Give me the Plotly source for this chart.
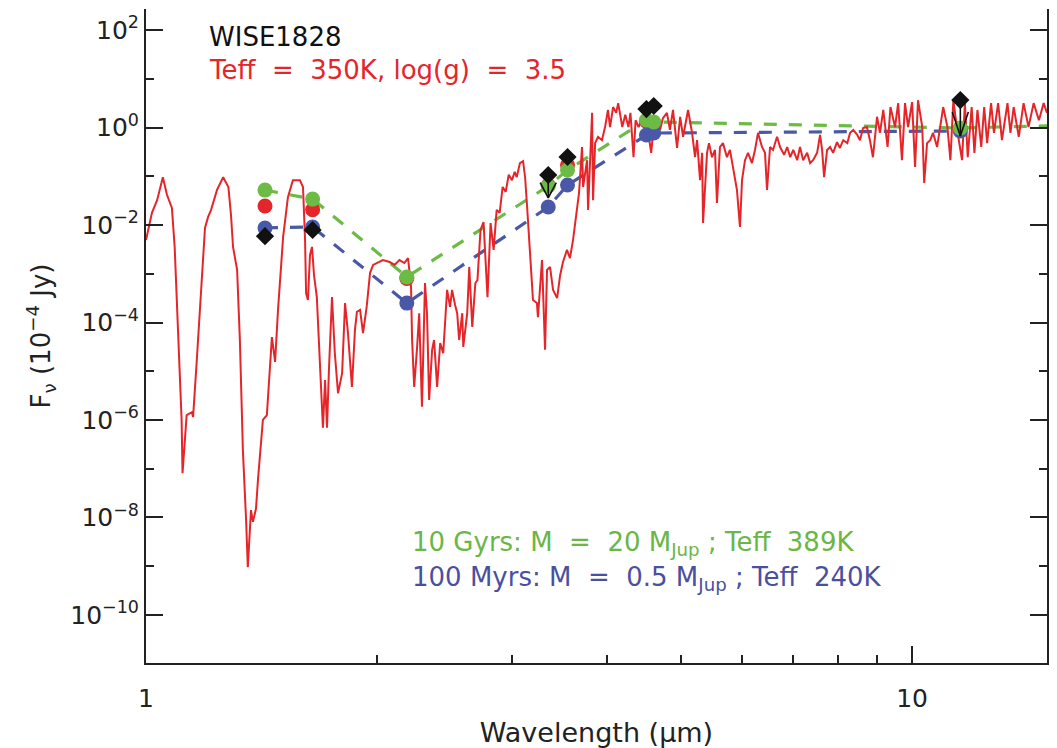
import numpy as np
import plotly.graph_objects as go

# ---------------------------------------------------------------------------
# Model spectrum: Teff = 350 K, log(g) = 3.5  (wavelength in micron, log10 F_nu)
# ---------------------------------------------------------------------------
spec_wave = [
    1.000, 1.018, 1.034, 1.043, 1.052, 1.065, 1.081, 1.090, 1.100, 1.113,
    1.116, 1.130, 1.148, 1.152, 1.165, 1.174, 1.187, 1.194, 1.205, 1.216,
    1.238, 1.261, 1.281, 1.291, 1.299, 1.315, 1.326, 1.338, 1.351, 1.358,
    1.371, 1.379, 1.392, 1.400, 1.421, 1.438, 1.460, 1.474, 1.487, 1.510,
    1.532, 1.555, 1.588, 1.603, 1.613, 1.618, 1.627, 1.637, 1.647, 1.657,
    1.671, 1.687, 1.702, 1.713, 1.723, 1.733, 1.749, 1.764, 1.781, 1.803,
    1.819, 1.835, 1.857, 1.874, 1.885, 1.903, 1.920, 1.941, 1.961, 1.979,
    2.002, 2.038, 2.080, 2.111, 2.142, 2.174, 2.198, 2.218, 2.225, 2.239,
    2.259, 2.273, 2.292, 2.313, 2.327, 2.342, 2.363, 2.377, 2.399, 2.421,
    2.443, 2.472, 2.494, 2.509, 2.532, 2.548, 2.563, 2.587, 2.595, 2.626,
    2.642, 2.666, 2.691, 2.708, 2.733, 2.758, 2.791, 2.817, 2.843, 2.869,
    2.895, 2.921, 2.948, 2.975, 3.004, 3.029, 3.047, 3.077, 3.106, 3.125,
    3.144, 3.172, 3.200, 3.238, 3.248, 3.288, 3.318, 3.338, 3.368, 3.399,
    3.441, 3.472, 3.502, 3.544, 3.576, 3.609, 3.653, 3.675, 3.708, 3.720,
    3.765, 3.776, 3.822, 3.833, 3.857, 3.891, 3.937, 3.974, 4.009, 4.034,
    4.071, 4.109, 4.134, 4.185, 4.223, 4.263, 4.289, 4.329, 4.356, 4.396,
    4.452, 4.508, 4.565, 4.604, 4.645, 4.687, 4.729, 4.786, 4.830, 4.874,
    4.934, 4.980, 5.024, 5.100, 5.162, 5.208, 5.240, 5.287, 5.320, 5.335,
    5.399, 5.431, 5.480, 5.530, 5.563, 5.613, 5.664, 5.732, 5.784, 5.836,
    5.907, 5.961, 5.998, 6.052, 6.107, 6.180, 6.236, 6.293, 6.369, 6.427,
    6.466, 6.525, 6.584, 6.664, 6.724, 6.807, 6.870, 6.933, 6.996, 7.080,
    7.140, 7.208, 7.295, 7.360, 7.425, 7.516, 7.584, 7.630, 7.676, 7.746,
    7.815, 7.887, 7.980, 8.050, 8.130, 8.230, 8.300, 8.380, 8.480, 8.550,
    8.630, 8.730, 8.810, 8.890, 9.000, 9.080, 9.170, 9.290, 9.370, 9.500,
    9.590, 9.700, 9.790, 9.880, 10.00, 10.09, 10.18, 10.31, 10.37, 10.46,
    10.56, 10.65, 10.78, 10.88, 10.98, 11.12, 11.22, 11.32, 11.45, 11.62,
    11.72, 11.82, 11.96, 12.06, 12.17, 12.31, 12.42, 12.53, 12.68, 12.79,
    12.95, 13.10, 13.32, 13.44, 13.57, 13.78, 13.98, 14.19, 14.41, 14.64,
    14.85, 15.00,
]
spec_logf = [
    -2.31, -1.75, -1.49, -1.28, -1.02, -1.38, -1.65, -2.45, -3.95, -6.00,
    -7.09, -5.90, -5.84, -5.94, -4.77, -3.95, -2.82, -2.06, -1.84, -1.69,
    -1.28, -1.02, -1.22, -1.79, -2.45, -2.92, -4.36, -6.62, -8.05, -9.02,
    -7.85, -8.09, -7.81, -7.23, -6.00, -5.90, -4.30, -4.81, -3.74, -2.25,
    -1.43, -1.08, -1.08, -1.22, -2.31, -3.40, -3.54, -2.62, -2.45, -3.03,
    -3.48, -4.97, -6.16, -5.18, -6.16, -4.97, -3.48, -4.63, -5.45, -5.04,
    -3.60, -4.22, -5.32, -4.15, -3.78, -3.74, -4.22, -3.68, -2.98, -2.82,
    -2.78, -2.72, -2.76, -2.82, -2.72, -2.78, -2.68, -3.27, -4.36, -5.32,
    -4.50, -3.81, -5.73, -3.19, -3.81, -5.59, -4.56, -4.36, -5.32, -4.42,
    -4.63, -3.33, -3.68, -3.33, -3.64, -3.81, -4.36, -3.81, -4.50, -3.81,
    -2.86, -4.09, -3.19, -3.13, -2.10, -1.94, -3.48, -1.96, -2.51, -1.69,
    -1.75, -1.22, -1.32, -0.97, -1.08, -0.91, -1.02, -0.73, -0.69, -1.02,
    -1.63, -2.51, -3.54, -3.60, -3.89, -2.72, -4.56, -2.92, -2.86, -3.33,
    -3.50, -3.03, -2.76, -2.51, -2.68, -2.31, -1.63, -1.34, -0.40, -1.22,
    -0.67, -1.69, 0.30, -1.49, -0.32, -0.19, -0.26, 0.01, 0.36, 0.01,
    0.42, 0.30, 0.50, 0.01, 0.26, 0.01, 0.30, -0.61, 0.15, 0.01,
    0.22, 0.05, -0.52, 0.11, 0.15, -0.05, 0.19, 0.30, -0.05, 0.36,
    -0.42, 0.22, -0.19, 0.36, -0.11, -0.61, -0.26, -1.08, -0.52, -1.96,
    -0.52, -0.32, -0.61, -0.46, -1.55, -0.40, -0.32, -0.61, -0.46, -0.81,
    -1.28, -2.04, -1.08, -0.67, -0.52, -0.73, -0.46, -0.11, -0.40, -0.52,
    -1.28, -0.40, -0.46, -0.19, -0.40, -0.56, -0.40, -0.61, -0.46, -0.67,
    -0.40, -0.67, -0.52, -0.73, -0.67, -0.52, -0.15, -0.46, -1.02, -0.46,
    -0.40, -0.52, -0.30, -0.42, -0.26, -0.32, -0.11, -0.05, -0.15, -0.26,
    -0.01, 0.01, -0.26, -0.61, 0.22, -0.11, 0.36, -0.40, 0.42, 0.01,
    0.50, -0.67, 0.50, 0.01, 0.52, -0.81, 0.56, 0.01, -1.14, -0.32,
    -0.26, -0.11, -0.40, 0.01, 0.42, 0.01, -0.67, 0.56, -0.05, -0.67,
    0.50, -0.61, 0.42, -0.52, 0.36, -0.40, 0.42, -0.32, 0.50, -0.11,
    0.50, -0.26, 0.50, -0.11, 0.42, -0.19, 0.50, 0.01, 0.50, 0.15,
    0.50, 0.30,
]

# ---------------------------------------------------------------------------
# Photometry (F_nu in units of 1e-4 Jy)
# ---------------------------------------------------------------------------
model_bands = [1.43, 1.65, 2.19, 3.35, 3.55, 4.5, 4.6, 11.56]
flux_350k = [0.0245, 0.0205, 8.0e-4, 0.065, 0.17, 1.35, 1.25, 0.95]
flux_10gyr = [0.052, 0.034, 8.6e-4, 0.063, 0.134, 1.43, 1.30, 0.98]
flux_100myr = [8.7e-3, 9.1e-3, 2.5e-4, 0.0234, 0.066, 0.70, 0.77, 0.85]

# the 10 Gyr model continues to the 22 micron band (beyond the plotted range)
line_bands_10gyr = model_bands + [22.0]
line_flux_10gyr = flux_10gyr + [1.25]

obs_bands = [1.43, 1.65, 3.35, 3.55, 4.5, 4.6, 11.56]
obs_flux = [5.9e-3, 7.9e-3, 0.106, 0.248, 2.39, 2.76, 3.66]
obs_upper = [False, False, True, False, False, False, True]
arrow_dex = [0.47, 0.74]          # arrow length (decades) for the upper limits

y_tick_exp = [-10, -8, -6, -4, -2, 0, 2]
y_minor_exp = [-9, -7, -5, -3, -1, 1]
x_tick_vals = [1, 10]
x_minor_vals = [2, 3, 4, 5, 6, 7, 8, 9]

RED = "#e4262a"
GREEN = "#6cbb45"
BLUE = "#4a58a8"
BLACK = "#111111"
AXIS = "#222222"
FONT = "DejaVu Sans"
SP = "\u00a0"

spec_flux = 10 ** np.array(spec_logf)

fig = go.Figure()

# dashed model sequences (drawn underneath the spectrum)
fig.add_trace(go.Scatter(x=model_bands, y=flux_100myr, mode="lines",
                         line=dict(color=BLUE, width=3.2, dash="13px,12px"),
                         hoverinfo="skip"))
fig.add_trace(go.Scatter(x=line_bands_10gyr, y=line_flux_10gyr, mode="lines",
                         line=dict(color=GREEN, width=3.2, dash="13px,12px"),
                         hoverinfo="skip"))

# model spectrum
fig.add_trace(go.Scatter(x=spec_wave, y=spec_flux, mode="lines",
                         line=dict(color=RED, width=2)))

# synthetic photometry
fig.add_trace(go.Scatter(x=model_bands, y=flux_350k, mode="markers",
                         marker=dict(color=RED, size=15, symbol="circle")))
fig.add_trace(go.Scatter(x=model_bands, y=flux_100myr, mode="markers",
                         marker=dict(color=BLUE, size=15, symbol="circle")))
fig.add_trace(go.Scatter(x=model_bands, y=flux_10gyr, mode="markers",
                         marker=dict(color=GREEN, size=15, symbol="circle")))

# upper-limit arrows
ax_x, ax_y = [], []
k = 0
half_w = 10 ** 0.0105
for lam, f, up in zip(obs_bands, obs_flux, obs_upper):
    if not up:
        continue
    L = arrow_dex[k]
    k += 1
    tip = f * 10 ** (-L)
    arm = f * 10 ** (-0.33 * L)
    ax_x += [lam, lam, None, lam / half_w, lam, lam * half_w, None]
    ax_y += [f, tip, None, arm, tip, arm, None]
fig.add_trace(go.Scatter(x=ax_x, y=ax_y, mode="lines",
                         line=dict(color=BLACK, width=1.6)))

# observed fluxes
fig.add_trace(go.Scatter(x=obs_bands, y=obs_flux, mode="markers",
                         marker=dict(color=BLACK, size=14, symbol="diamond")))

# labels
label_x = 0.068
fig.add_annotation(x=label_x, y=0.957,
                   xref="paper", yref="paper", xanchor="left", yanchor="middle",
                   text="WISE1828", showarrow=False,
                   font=dict(family=FONT, size=26, color=BLACK))
fig.add_annotation(x=label_x, y=0.907,
                   xref="paper", yref="paper", xanchor="left", yanchor="middle",
                   text=f"Teff {SP}={SP} 350K, log(g) {SP}={SP} 3.5",
                   showarrow=False,
                   font=dict(family=FONT, size=26, color=RED))
fig.add_annotation(x=0.293, y=0.183, xref="paper", yref="paper",
                   xanchor="left", yanchor="middle",
                   text=f"10 Gyrs: M {SP}={SP} 20 M<sub>Jup</sub> ; Teff {SP}389K",
                   showarrow=False,
                   font=dict(family=FONT, size=26, color="#6ab646"))
fig.add_annotation(x=0.293, y=0.129, xref="paper", yref="paper",
                   xanchor="left", yanchor="middle",
                   text=f"100 Myrs: M {SP}={SP} 0.5 M<sub>Jup</sub> ; Teff {SP}240K",
                   showarrow=False,
                   font=dict(family=FONT, size=26, color="#4a4f9e"))

fig.update_layout(
    width=1057, height=748,
    margin=dict(l=146, r=10, t=9, b=85),
    paper_bgcolor="white", plot_bgcolor="white",
    showlegend=False,
    font=dict(family=FONT, color=BLACK),
    xaxis=dict(
        type="log", range=[0, np.log10(15.0)], automargin=False,
        showline=True, linecolor=AXIS, linewidth=2, mirror=False,
        showgrid=False, zeroline=False,
        ticks="inside", ticklen=17, tickwidth=1.6, tickcolor=AXIS,
        tickmode="array", tickvals=x_tick_vals,
        ticktext=[str(v) for v in x_tick_vals],
        ticklabelstandoff=12,
        minor=dict(ticks="inside", ticklen=8, tickwidth=1.6, tickcolor=AXIS,
                   tickmode="array", tickvals=x_minor_vals, showgrid=False),
        tickfont=dict(family=FONT, size=25, color=AXIS),
        title=dict(text="Wavelength (\u03bcm)", standoff=18,
                   font=dict(family=FONT, size=27, color=AXIS)),
    ),
    yaxis=dict(
        type="log", range=[-10.985, 2.431], automargin=False,
        showline=True, linecolor=AXIS, linewidth=2, mirror="ticks",
        showgrid=False, zeroline=False,
        ticks="inside", ticklen=17, tickwidth=1.6, tickcolor=AXIS,
        tickmode="array", tickvals=[10.0 ** e for e in y_tick_exp],
        ticktext=["10<sup>%s</sup>" % str(e).replace("-", "\u2212")
                  for e in y_tick_exp],
        minor=dict(ticks="inside", ticklen=8, tickwidth=1.6, tickcolor=AXIS,
                   tickmode="array", tickvals=[10.0 ** e for e in y_minor_exp],
                   showgrid=False),
        tickfont=dict(family=FONT, size=25, color=AXIS),
        title=dict(text="F<sub>\u03bd</sub> (10<sup>\u22124</sup> Jy)",
                   standoff=12,
                   font=dict(family=FONT, size=26, color=AXIS)),
    ),
)

fig.write_html("out.html")
